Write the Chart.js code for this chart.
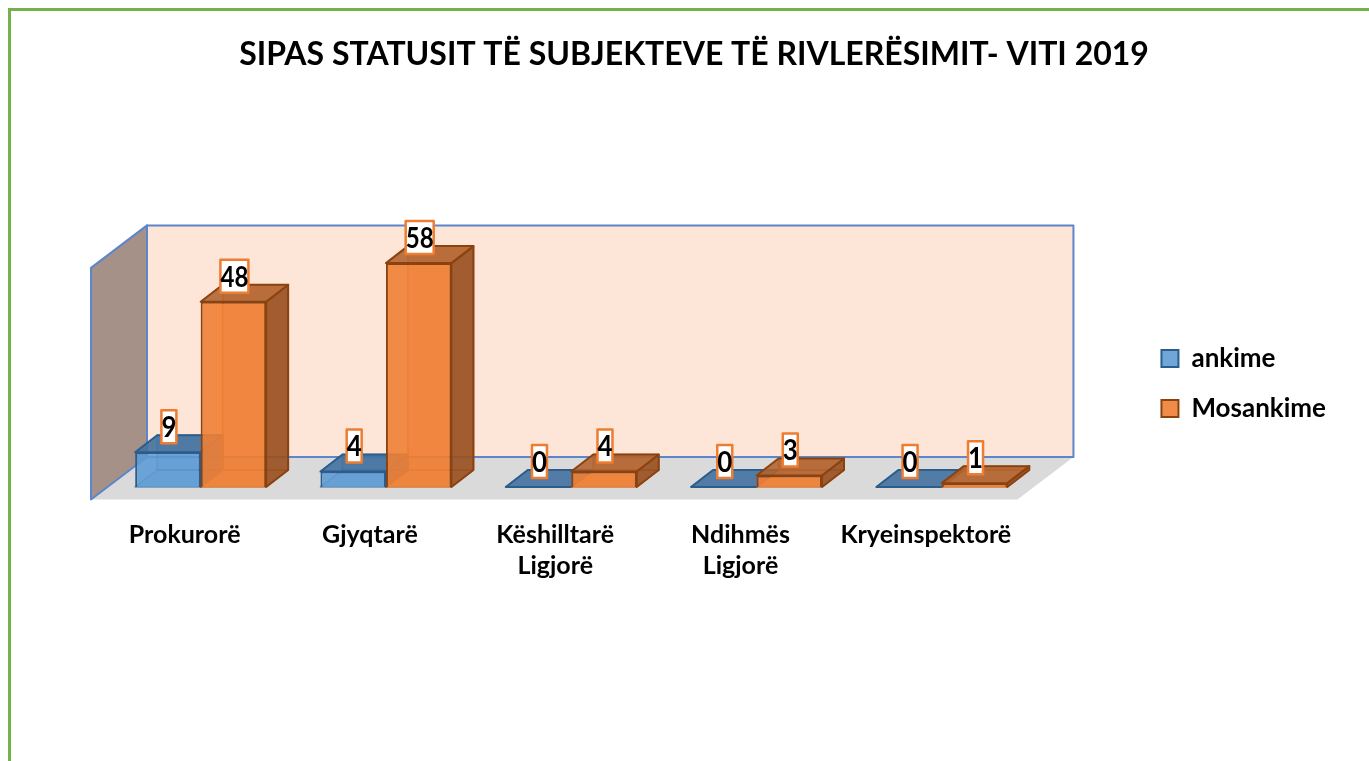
<!DOCTYPE html>
<html>
<head>
<meta charset="utf-8">
<title>Subjektet e rivlerësimit 2019</title>
<script src="https://cdn.jsdelivr.net/npm/chart.js@4"></script>
<style>
    html, body { margin: 0; padding: 0; background: #fff; overflow: hidden; }
    #chart { position: absolute; left: 0; top: 0; }
    #frame {
        position: absolute; left: 8px; top: 8px; right: 0; bottom: 0;
        border-left: 3px solid #74b04c; border-top: 3px solid #74b04c;
        pointer-events: none;
    }
</style>
</head>
<body>
<canvas id="chart" width="1369" height="761"></canvas>
<div id="frame"></div>
<script>
const titleText = 'SIPAS STATUSIT TË SUBJEKTEVE TË RIVLERËSIMIT- VITI 2019';
const categories = ['Prokurorë', 'Gjyqtarë', ['Këshilltarë', 'Ligjorë'], ['Ndihmës', 'Ligjorë'], 'Kryeinspektorë'];
const ankime = [9, 4, 0, 0, 0];
const mosankime = [48, 58, 4, 3, 1];

const FONT = 'Lato, "Open Sans", sans-serif';

// Depth of a bar and of the room around the bars, in pixels
const BAR_DX = 22, BAR_DY = 17;
const ROOM_FRONT_DX = 17, ROOM_FRONT_DY = 12.5;
const ROOM_BACK_DX = 39, ROOM_BACK_DY = 30;

function poly(ctx, points, fill, stroke, width) {
    ctx.beginPath();
    points.forEach(([x, y], i) => (i ? ctx.lineTo(x, y) : ctx.moveTo(x, y)));
    ctx.closePath();
    if (fill) {
        ctx.fillStyle = fill;
        ctx.fill();
    }
    if (stroke) {
        ctx.strokeStyle = stroke;
        ctx.lineWidth = width || 2;
        ctx.lineJoin = 'round';
        ctx.stroke();
    }
}

function drawRoom(chart) {
    const { ctx, scales: { x, y } } = chart;
    const base = y.getPixelForValue(0);
    const fl = x.left - ROOM_FRONT_DX, fr = x.right - ROOM_FRONT_DX;
    const bl = x.left + ROOM_BACK_DX, br = x.right + ROOM_BACK_DX;
    const frontY = base + ROOM_FRONT_DY, backY = base - ROOM_BACK_DY;
    const backTop = y.top - ROOM_BACK_DY, frontTop = y.top + ROOM_FRONT_DY;
    const edge = '#5b86cc';

    // floor
    poly(ctx, [[fl, frontY], [fr, frontY], [br, backY], [bl, backY]], '#dbdadb');
    // back wall
    poly(ctx, [[bl, backTop], [br, backTop], [br, backY], [bl, backY]], '#fde5d8', edge);
    // left wall
    poly(ctx, [[fl, frontTop], [bl, backTop], [bl, backY], [fl, frontY]], '#a59187', edge);
}

// side, top and hidden faces go under the front face the library draws
function drawBarFaces(chart, meta, ds) {
    const ctx = chart.ctx;
    meta.data.forEach(bar => {
        const l = bar.x - bar.width / 2, r = bar.x + bar.width / 2;
        const t = bar.y, b = bar.base;
        const dx = BAR_DX, dy = BAR_DY;
        if (b - t > 0.5) {
            poly(ctx, [[l, b], [r, b], [r + dx, b - dy], [l + dx, b - dy]], ds.hiddenColor, ds.hiddenEdge, 1.5);
            poly(ctx, [[l + dx, t - dy], [r + dx, t - dy], [r + dx, b - dy], [l + dx, b - dy]], ds.hiddenColor, ds.hiddenEdge, 1.5);
            poly(ctx, [[r, t], [r + dx, t - dy], [r + dx, b - dy], [r, b]], ds.sideColor, ds.borderColor);
        }
        poly(ctx, [[l, t], [r, t], [r + dx, t - dy], [l + dx, t - dy]], ds.topColor, ds.borderColor);
    });
}

function drawValueLabels(chart) {
    const ctx = chart.ctx;
    ctx.font = 'bold 29px ' + FONT;
    ctx.textAlign = 'center';
    ctx.textBaseline = 'middle';
    chart.data.datasets.forEach((ds, i) => {
        chart.getDatasetMeta(i).data.forEach((bar, j) => {
            const label = String(ds.data[j]);
            const w = label.length > 1 ? 28 : 15, h = 33;
            const cx = bar.x + 1, cy = bar.y - 25.5;
            ctx.fillStyle = '#fff';
            ctx.fillRect(cx - w / 2, cy - h / 2, w, h);
            ctx.strokeStyle = '#ed7d31';
            ctx.lineWidth = 2.5;
            ctx.strokeRect(cx - w / 2, cy - h / 2, w, h);
            ctx.fillStyle = '#000';
            ctx.fillText(label, cx, cy + 1, w);
        });
    });
}

const room3d = {
    id: 'room3d',
    // datasets are drawn here in index order so the orange bars sit over the blue ones
    beforeDatasetsDraw(chart) {
        const ctx = chart.ctx;
        ctx.save();
        drawRoom(chart);
        chart.data.datasets.forEach((ds, i) => {
            const meta = chart.getDatasetMeta(i);
            drawBarFaces(chart, meta, ds);
            meta.controller.draw();
        });
        drawValueLabels(chart);
        ctx.restore();
        return false;
    }
};

new Chart(document.getElementById('chart'), {
    type: 'bar',
    plugins: [room3d],
    data: {
        labels: categories,
        datasets: [
            {
                label: 'ankime',
                data: ankime,
                backgroundColor: 'rgba(91, 155, 213, 0.88)',
                borderColor: '#2a5c8c',
                borderWidth: 2,
                topColor: 'rgba(66, 113, 158, 0.9)',
                sideColor: 'rgba(52, 98, 142, 0.85)',
                hiddenColor: 'rgba(60, 120, 180, 0.25)',
                hiddenEdge: 'rgba(42, 92, 140, 0.6)'
            },
            {
                label: 'Mosankime',
                data: mosankime,
                backgroundColor: 'rgba(240, 128, 52, 0.9)',
                borderColor: '#8a4310',
                borderWidth: 2,
                topColor: 'rgba(178, 98, 44, 0.88)',
                sideColor: 'rgba(150, 80, 32, 0.88)',
                hiddenColor: 'rgba(205, 100, 35, 0.3)',
                hiddenEdge: 'rgba(190, 90, 30, 0.75)'
            }
        ]
    },
    options: {
        responsive: false,
        animation: false,
        layout: { padding: { left: 52, right: 33, top: 6, bottom: 0 } },
        plugins: {
            title: {
                display: true,
                text: titleText,
                color: '#000',
                font: { family: FONT, size: 32, weight: 'bold' },
                padding: { top: 29, bottom: 182 }
            },
            legend: {
                position: 'right',
                labels: {
                    boxWidth: 17,
                    boxHeight: 17,
                    padding: 24,
                    color: '#000',
                    font: { family: FONT, size: 26, weight: 'bold' }
                }
            },
            tooltip: { enabled: false }
        },
        scales: {
            x: {
                grid: { display: false },
                border: { display: false },
                afterFit(scale) { scale.height = 274; },
                ticks: {
                    color: '#000',
                    padding: 24,
                    labelOffset: -16,
                    maxRotation: 0,
                    autoSkip: false,
                    font: { family: FONT, size: 25, weight: 'bold', lineHeight: 1.24 }
                }
            },
            y: {
                min: 0,
                max: 60,
                grid: { display: false },
                border: { display: false },
                ticks: { display: false },
                afterFit(scale) { scale.width = 56; }
            },
            legendGap: {
                axis: 'y',
                position: 'right',
                grid: { display: false },
                border: { display: false },
                ticks: { display: false },
                afterFit(scale) { scale.width = 103; }
            }
        },
        datasets: { bar: { categoryPercentage: 0.707, barPercentage: 1 } }
    }
});
</script>
</body>
</html>
